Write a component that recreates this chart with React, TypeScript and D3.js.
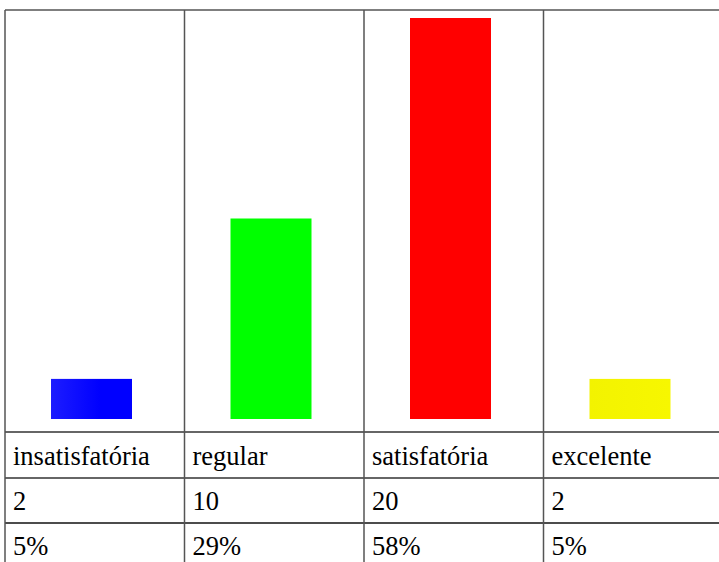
import React from "react";
import * as d3 from "d3";

const categories = ["insatisfatória", "regular", "satisfatória", "excelente"];
const counts = [2, 10, 20, 2];
const percents = ["5%", "29%", "58%", "5%"];
const colors = ["#0000ff", "#00ff00", "#ff0000", "#f5f500"];

const W = 719;
const H = 562;
const left = 5;
const colW = 179.5;
const top = 10;
const rowLines = [432, 478, 523];

export default function App() {
  const x = d3
    .scaleBand<string>()
    .domain(categories)
    .range([left, left + colW * categories.length]);
  const y = d3.scaleLinear().domain([0, 20]).range([419, 18]);
  const barW = 81;
  const barOff = 46;
  const fs = 26.5;
  return (
    <svg
      width={W}
      height={H}
      style={{ position: "absolute", left: 0, top: 0 }}
    >
      <defs>
        <linearGradient id="gblue" x1="0" x2="1" y1="0" y2="0">
          <stop offset="0" stopColor="#1c1cff" />
          <stop offset="0.6" stopColor="#0000ff" />
        </linearGradient>
        <linearGradient id="gyel" x1="0" x2="1" y1="0" y2="0">
          <stop offset="0" stopColor="#f3f300" />
          <stop offset="1" stopColor="#f7f700" />
        </linearGradient>
      </defs>
      <rect width={W} height={H} fill="#fff" />
      {categories.map((c, i) => {
        const x0 = x(c)!;
        const fill = i === 0 ? "url(#gblue)" : i === 3 ? "url(#gyel)" : colors[i];
        return (
          <rect
            key={c}
            x={x0 + barOff}
            y={y(counts[i])}
            width={barW}
            height={y(0) - y(counts[i])}
            fill={fill}
          />
        );
      })}
      <line x1={left} x2={W} y1={top} y2={top} stroke="#555" strokeWidth={1.5} />
      {rowLines.map((ry, i) => (
        <line
          key={ry}
          x1={left}
          x2={W}
          y1={ry}
          y2={ry}
          stroke={i === 2 ? "#111" : "#333"}
          strokeWidth={1.5}
        />
      ))}
      {categories.map((c) => (
        <line
          key={"v" + c}
          x1={x(c)!}
          x2={x(c)!}
          y1={top}
          y2={H}
          stroke="#555"
          strokeWidth={1.5}
        />
      ))}
      {categories.map((c, i) => {
        const tx = x(c)! + 8;
        return (
          <g
            key={"t" + c}
            fill="#000"
            style={{ fontFamily: '"Liberation Serif", serif', fontSize: fs + "px" }}
          >
            <text x={tx} y={465}>{c}</text>
            <text x={tx} y={510}>{counts[i]}</text>
            <text x={tx} y={555}>{percents[i]}</text>
          </g>
        );
      })}
    </svg>
  );
}
